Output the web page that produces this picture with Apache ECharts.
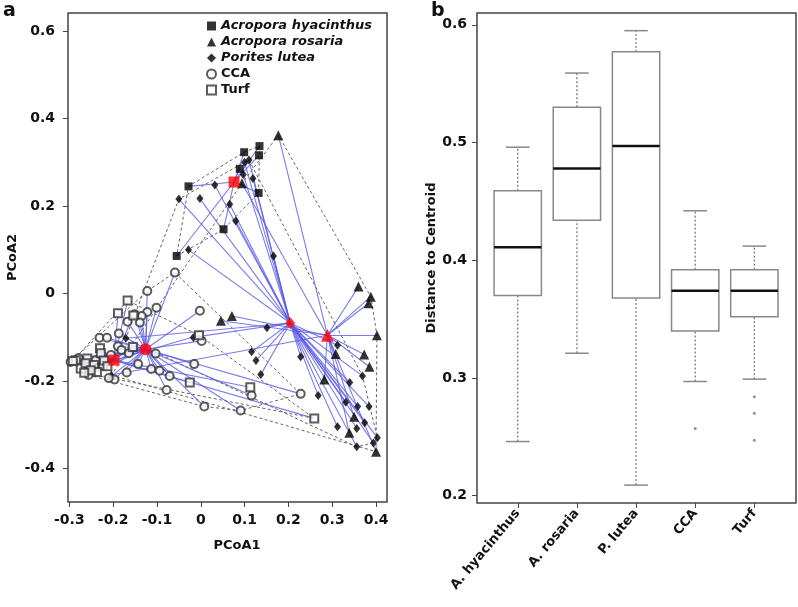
<!DOCTYPE html>
<html><head><meta charset="utf-8">
<script src="https://cdn.jsdelivr.net/npm/echarts@6/dist/echarts.min.js"></script>
<style>html,body{margin:0;padding:0;background:#fff}#c{width:798px;height:607px}</style>
</head><body><div id="c"></div>
<script>
// ---------- Panel a: PCoA ----------
const groupNames = ['Acropora hyacinthus', 'Acropora rosaria', 'Porites lutea', 'CCA', 'Turf'];
const hyacinthusPts = [[-0.028,0.245],[0.099,0.323],[0.134,0.337],[0.133,0.316],[0.089,0.285],[0.132,0.230],[0.052,0.147],[-0.055,0.086]];
const rosariaPts = [[0.177,0.362],[0.094,0.252],[0.360,0.016],[0.388,-0.007],[0.383,-0.022],[0.402,-0.095],[0.046,-0.062],[0.071,-0.051],[0.308,-0.138],[0.373,-0.139],[0.385,-0.167],[0.282,-0.196],[0.350,-0.281],[0.339,-0.318],[0.400,-0.361],[-0.204,-0.186]];
const luteaPts = [[0.100,0.300],[0.110,0.305],[0.097,0.272],[0.119,0.263],[0.032,0.248],[-0.050,0.216],[-0.002,0.217],[0.066,0.204],[0.080,0.166],[-0.028,0.100],[0.166,0.086],[-0.171,-0.102],[-0.017,-0.100],[0.151,-0.078],[0.116,-0.133],[0.126,-0.153],[0.137,-0.185],[0.228,-0.144],[0.268,-0.233],[0.312,-0.118],[0.369,-0.188],[0.340,-0.203],[0.331,-0.248],[0.358,-0.258],[0.384,-0.258],[0.374,-0.295],[0.356,-0.308],[0.312,-0.304],[0.403,-0.329],[0.394,-0.341],[0.356,-0.350]];
const ccaPts = [[-0.059,0.048],[-0.122,0.006],[-0.002,-0.039],[-0.101,-0.032],[-0.122,-0.042],[-0.135,-0.051],[-0.151,-0.047],[-0.167,-0.064],[-0.139,-0.066],[-0.187,-0.091],[-0.231,-0.101],[-0.214,-0.101],[0.002,-0.108],[-0.103,-0.137],[-0.143,-0.161],[-0.113,-0.172],[-0.094,-0.176],[-0.071,-0.188],[-0.015,-0.161],[-0.078,-0.220],[0.008,-0.258],[0.091,-0.267],[0.116,-0.233],[0.228,-0.229],[-0.169,-0.180],[-0.189,-0.120],[-0.181,-0.129],[-0.164,-0.136],[-0.223,-0.165],[-0.197,-0.196],[-0.205,-0.140],[-0.210,-0.193],[-0.240,-0.152],[-0.279,-0.147],[-0.297,-0.156],[-0.256,-0.186]];
const turfPts = [[-0.167,-0.016],[-0.189,-0.045],[-0.154,-0.050],[-0.004,-0.095],[-0.025,-0.203],[0.113,-0.214],[0.259,-0.285],[-0.230,-0.125],[-0.228,-0.136],[-0.155,-0.122],[-0.285,-0.152],[-0.259,-0.148],[-0.244,-0.163],[-0.237,-0.179],[-0.274,-0.171],[-0.221,-0.153],[-0.263,-0.159],[-0.251,-0.175],[-0.292,-0.154],[-0.213,-0.166],[-0.266,-0.181]];
const centroids = [[0.076,0.255],[0.289,-0.095],[0.204,-0.067],[-0.126,-0.127],[-0.198,-0.152]];
const pcoaXTicks = [-0.3,-0.2,-0.1,0,0.1,0.2,0.3,0.4];
const pcoaYTicks = [-0.4,-0.2,0,0.2,0.4,0.6];

// ---------- Panel b: distance to centroid ----------
const boxCategories = ['A. hyacinthus','A. rosaria','P. lutea','CCA','Turf'];
const boxLow    = [0.246,0.321,0.209,0.297,0.299];
const boxQ1     = [0.370,0.434,0.368,0.340,0.352];
const boxMedian = [0.411,0.478,0.497,0.374,0.374];
const boxQ3     = [0.459,0.530,0.577,0.392,0.392];
const boxHigh   = [0.496,0.559,0.595,0.442,0.412];
const boxOutliers = [[4,0.257],[5,0.284],[5,0.270],[5,0.247]];
const boxYTicks = [0.2,0.3,0.4,0.5,0.6];

const groups = [hyacinthusPts, rosariaPts, luteaPts, ccaPts, turfPts];
const symbols = ['rect','triangle','diamond','emptyCircle','emptyRect'];
const symbolSizes = [8, 10, [7,9], 8, 8];
const centroidSymbols = ['rect','triangle','diamond','circle','rect'];
const centroidSizes = [11, 13, [10,12], 12, 11];

function hull(pts){
  const p = pts.slice().sort((a,b)=>a[0]-b[0]||a[1]-b[1]);
  const cross=(o,a,b)=>(a[0]-o[0])*(b[1]-o[1])-(a[1]-o[1])*(b[0]-o[0]);
  const lo=[],up=[];
  for(const q of p){while(lo.length>=2&&cross(lo[lo.length-2],lo[lo.length-1],q)<=0)lo.pop();lo.push(q);}
  for(let i=p.length-1;i>=0;i--){const q=p[i];while(up.length>=2&&cross(up[up.length-2],up[up.length-1],q)<=0)up.pop();up.push(q);}
  up.pop();lo.pop();
  const h=lo.concat(up);h.push(h[0]);return h;
}

const fmt1 = v => String(Math.round(v*10)/10);
const series = [];
groups.forEach((g,i)=>{
  series.push({type:'line', xAxisIndex:0, yAxisIndex:0, data:hull(g), showSymbol:false, symbol:'none', silent:true, z:1,
    lineStyle:{color:'#555', width:0.9, type:[3,2.5]}});
});
groups.forEach((g,i)=>{
  series.push({type:'lines', coordinateSystem:'cartesian2d', xAxisIndex:0, yAxisIndex:0, silent:true, z:2,
    data:g.map(p=>({coords:[p, centroids[i]]})),
    lineStyle:{color:'#5a5ae6', width:1.1, opacity:0.8}});
});
groups.forEach((g,i)=>{
  const empty = i>=3;
  series.push({type:'scatter', name:groupNames[i], xAxisIndex:0, yAxisIndex:0, data:g, z:3,
    symbol:symbols[i], symbolSize:symbolSizes[i],
    itemStyle: empty ? {color:'#333', borderColor:'#333', borderWidth:1} : {color:'#000'}});
});
centroids.forEach((c,i)=>{
  series.push({type:'scatter', xAxisIndex:0, yAxisIndex:0, data:[c], z:4, silent:true,
    symbol:centroidSymbols[i], symbolSize:centroidSizes[i], itemStyle:{color:'#ff0000'}});
});
series.push({type:'custom', xAxisIndex:1, yAxisIndex:1, z:3,
  data: boxCategories.map((c,i)=>[i+1, boxLow[i], boxQ1[i], boxMedian[i], boxQ3[i], boxHigh[i]]),
  encode:{x:0, y:[1,2,3,4,5]},
  renderItem:(params, api)=>{
    const x = api.value(0);
    const pL = api.coord([x, api.value(1)]);
    const p1 = api.coord([x, api.value(2)]);
    const pM = api.coord([x, api.value(3)]);
    const p3 = api.coord([x, api.value(4)]);
    const pH = api.coord([x, api.value(5)]);
    const bw = api.size([0.8,0])[0];
    const cw = api.size([0.4,0])[0];
    const dot = {stroke:'#777', lineWidth:1.3, lineDash:[2,2]};
    const cap = {stroke:'#888', lineWidth:1.5};
    return {type:'group', children:[
      {type:'line', shape:{x1:pL[0],y1:pL[1],x2:p1[0],y2:p1[1]}, style:dot},
      {type:'line', shape:{x1:p3[0],y1:p3[1],x2:pH[0],y2:pH[1]}, style:dot},
      {type:'line', shape:{x1:pL[0]-cw/2,y1:pL[1],x2:pL[0]+cw/2,y2:pL[1]}, style:cap},
      {type:'line', shape:{x1:pH[0]-cw/2,y1:pH[1],x2:pH[0]+cw/2,y2:pH[1]}, style:cap},
      {type:'rect', shape:{x:p3[0]-bw/2, y:p3[1], width:bw, height:p1[1]-p3[1]}, style:{fill:'#fff', stroke:'#888', lineWidth:1.5}},
      {type:'line', shape:{x1:pM[0]-bw/2,y1:pM[1],x2:pM[0]+bw/2,y2:pM[1]}, style:{stroke:'#111', lineWidth:2.5}}
    ]};
  }});
series.push({type:'scatter', xAxisIndex:1, yAxisIndex:1, data:boxOutliers, symbol:'circle', symbolSize:3, itemStyle:{color:'#777'}, z:4});

const tickFont = {fontFamily:'DejaVu Sans', fontWeight:'bold', fontSize:14, color:'#111'};
const nameFont = {fontFamily:'DejaVu Sans', fontWeight:'bold', fontSize:13, color:'#111'};
const chart = echarts.init(document.getElementById('c'), null, {renderer:'canvas'});
chart.setOption({
  animation:false,
  backgroundColor:'#fff',
  grid:[
    {left:68, top:13, width:319, height:489, show:true, borderColor:'#444', borderWidth:1.5, backgroundColor:'transparent'},
    {left:477, top:13, width:319, height:490, show:true, borderColor:'#444', borderWidth:1.5, backgroundColor:'transparent'}
  ],
  xAxis:[
    {type:'value', gridIndex:0, min:-0.303, max:0.425, splitLine:{show:false}, axisLine:{show:false, onZero:false},
     axisTick:{show:true, length:5, customValues:pcoaXTicks, lineStyle:{color:'#444'}},
     axisLabel:{customValues:pcoaXTicks, formatter:fmt1, margin:11, ...tickFont},
     name:'PCoA1', nameLocation:'middle', nameGap:37, nameTextStyle:{...nameFont, padding:[0,0,0,19]}},
    {type:'value', gridIndex:1, min:0.311, max:5.704, splitLine:{show:false}, axisLine:{show:false, onZero:false},
     axisTick:{show:true, length:5, customValues:[1,2,3,4,5], lineStyle:{color:'#444'}},
     axisLabel:{customValues:[1,2,3,4,5], formatter:v=>boxCategories[Math.round(v)-1], rotate:50, margin:8, ...tickFont, fontSize:13}}
  ],
  yAxis:[
    {type:'value', gridIndex:0, min:-0.476, max:0.641, splitLine:{show:false}, axisLine:{show:false, onZero:false},
     axisTick:{show:true, length:5, customValues:pcoaYTicks, lineStyle:{color:'#444'}},
     axisLabel:{customValues:pcoaYTicks, formatter:fmt1, margin:13, ...tickFont},
     name:'PCoA2', nameLocation:'middle', nameGap:49, nameTextStyle:nameFont},
    {type:'value', gridIndex:1, min:0.1938, max:0.610, splitLine:{show:false}, axisLine:{show:false, onZero:false},
     axisTick:{show:true, length:5, customValues:boxYTicks, lineStyle:{color:'#444'}},
     axisLabel:{customValues:boxYTicks, formatter:fmt1, margin:10, ...tickFont},
     name:'Distance to Centroid', nameLocation:'middle', nameGap:37, nameTextStyle:nameFont}
  ],
  legend:{
    orient:'vertical', left:201, top:14, itemWidth:9, itemHeight:9, itemGap:2,
    data:[{name:groupNames[0], icon:'rect'},{name:groupNames[1], icon:'triangle'},{name:groupNames[2], icon:'diamond'},{name:groupNames[3], icon:'emptyCircle'},{name:groupNames[4], icon:'emptyRect'}],
    formatter: n => (groupNames.indexOf(n) < 3 ? '{i|' + n + '}' : '{n|' + n + '}'),
    textStyle:{fontFamily:'DejaVu Sans', fontWeight:'bold', fontSize:13, lineHeight:14, color:'#111',
      rich:{i:{fontStyle:'italic', fontWeight:'bold', fontFamily:'DejaVu Sans', fontSize:13, lineHeight:14}, n:{fontWeight:'bold', fontFamily:'DejaVu Sans', fontSize:13, lineHeight:14}}}
  },
  graphic:[
    {type:'text', left:3, top:2, style:{text:'a', font:'bold 19px "DejaVu Sans"', fill:'#111'}},
    {type:'text', left:431, top:2, style:{text:'b', font:'bold 19px "DejaVu Sans"', fill:'#111'}}
  ],
  series
});
</script>
</body></html>
